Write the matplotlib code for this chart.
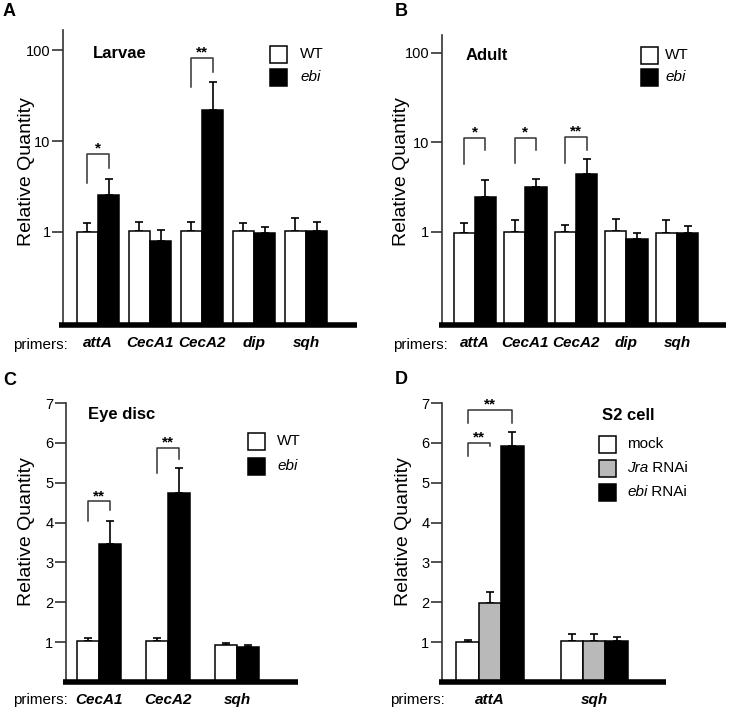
import matplotlib
matplotlib.use('Agg')
import matplotlib.pyplot as plt
from matplotlib.patches import Rectangle
import numpy as np

plt.rcParams['font.family'] = ['Liberation Sans', 'DejaVu Sans']

# --- Data ---
# A: Larvae (log scale)
a_genes = ['attA', 'CecA1', 'CecA2', 'dip', 'sqh']
a_wt = [1.0, 1.03, 1.03, 1.03, 1.03]
a_wt_err = [1.26, 1.29, 1.28, 1.25, 1.41]
a_ebi = [2.55, 0.80, 22.0, 0.97, 1.03]
a_ebi_err = [3.8, 1.05, 45.0, 1.14, 1.28]
# brackets: (group, top, left leg bottom, right leg bottom, label)
a_sig = [(0, 7.2, 3.45, 5.05, '*'), (2, 81, 39, 58, '**')]

# B: Adult (log scale)
b_genes = ['attA', 'CecA1', 'CecA2', 'dip', 'sqh']
b_wt = [0.97, 1.0, 1.0, 1.02, 0.97]
b_wt_err = [1.24, 1.37, 1.19, 1.40, 1.34]
b_ebi = [2.45, 3.19, 4.46, 0.835, 0.97]
b_ebi_err = [3.76, 3.92, 6.5, 0.975, 1.16]
b_sig = [(0, 11.3, 5.67, 8.1, '*'), (1, 11.3, 5.8, 8.2, '*'), (2, 11.5, 5.9, 8.2, '**')]

# C: Eye disc (linear)
c_genes = ['CecA1', 'CecA2', 'sqh']
c_wt = [1.03, 1.03, 0.92]
c_wt_err = [1.10, 1.10, 0.98]
c_ebi = [3.45, 4.75, 0.88]
c_ebi_err = [4.03, 5.37, 0.94]
c_sig = [(0, 4.53, 4.03, 4.32, '**'), (1, 5.87, 5.25, 5.59, '**')]

# D: S2 cell (linear)
d_genes = ['attA', 'sqh']
d_mock = [1.0, 1.02]
d_mock_err = [1.05, 1.21]
d_jra = [1.98, 1.02]
d_jra_err = [2.27, 1.21]
d_ebi = [5.93, 1.02]
d_ebi_err = [6.27, 1.12]

W, H = 733, 710
fig = plt.figure(figsize=(W / 100, H / 100), dpi=100)


def px(x, y):
    return x / W, 1 - y / H


def make_ax(x0, x1, ytop, ybot):
    return fig.add_axes([x0 / W, 1 - ybot / H, (x1 - x0) / W, (ybot - ytop) / H])


def style_ax(ax, genes):
    for s in ['top', 'right', 'bottom']:
        ax.spines[s].set_visible(False)
    ax.spines['left'].set_linewidth(1.2)
    ax.spines['left'].set_color('#333333')
    ax.plot([-0.012, 1], [0, 0], transform=ax.transAxes, color='black',
            lw=4, solid_capstyle='butt', clip_on=False, zorder=5)
    ax.set_xticks(range(len(genes)))
    ax.set_xticklabels(genes, fontsize=11, fontweight='bold', fontstyle='italic')
    ax.tick_params(axis='x', length=0, pad=8)
    ax.tick_params(axis='y', length=8, width=1.2, color='#333333', pad=1,
                   labelsize=10.5, which='major')
    ax.tick_params(axis='y', which='minor', length=0)


def draw_bars(ax, xs, vals, errs, width, color, bottom=0):
    vals = np.array(vals)
    ax.bar(xs, vals - bottom, width, bottom=bottom, color=color,
           edgecolor='black', linewidth=1.1, zorder=2)
    up = np.array(errs) - vals
    ax.errorbar(xs, vals, yerr=[np.zeros_like(up), up], fmt='none',
                ecolor='black', elinewidth=1.2, capsize=3, capthick=1.2, zorder=1)


def brackets(ax, sig, off):
    for g, top, lb, rb, lab in sig:
        x0, x1 = g - off, g + off
        ax.plot([x0, x0, x1, x1], [lb, top, top, rb], color='#333333', lw=1.1,
                clip_on=False)
        ax.annotate(lab, ((x0 + x1) / 2, top), xytext=(0, 1), textcoords='offset points',
                    ha='center', va='baseline', fontsize=11, fontweight='bold')


def legend(items, bx, ys, tx):
    # items: (italic part, regular part, colour)
    for (ital, reg, color), yc in zip(items, ys):
        x, y = px(bx, yc + 8.5)
        fig.add_artist(Rectangle((x, y), 17 / W, 17 / H, transform=fig.transFigure,
                                 facecolor=color, edgecolor='black', lw=1.1))
        if ital:
            t = fig.text(*px(tx, yc), ital, style='italic', fontsize=11, va='center')
            if reg:
                fig.canvas.draw()
                bb = t.get_window_extent()
                fig.text(bb.x1 / W, 1 - yc / H, reg, fontsize=11, va='center')
        else:
            fig.text(*px(tx, yc), reg, fontsize=11, va='center')


# ---------- A ----------
axA = make_ax(63, 357, 30, 325)
axA.set_yscale('log')
lowA = 0.095
xa = np.arange(len(a_genes))
draw_bars(axA, xa - 0.205, a_wt, a_wt_err, 0.41, 'white', lowA)
draw_bars(axA, xa + 0.205, a_ebi, a_ebi_err, 0.41, 'black', lowA)
axA.set_ylim(lowA, 166)
axA.set_xlim(-0.67, 4.98)
style_ax(axA, a_genes)
axA.set_yticks([1, 10, 100], ['1', '10', '100'])
brackets(axA, a_sig, 0.205)

# ---------- B ----------
axB = make_ax(442, 726, 35, 325)
axB.set_yscale('log')
lowB = 0.091
xb = np.arange(len(b_genes))
draw_bars(axB, xb - 0.21, b_wt, b_wt_err, 0.42, 'white', lowB)
draw_bars(axB, xb + 0.21, b_ebi, b_ebi_err, 0.42, 'black', lowB)
axB.set_ylim(lowB, 158)
axB.set_xlim(-0.65, 4.97)
style_ax(axB, b_genes)
axB.set_yticks([1, 10, 100], ['1', '10', '100'])
brackets(axB, b_sig, 0.21)

# ---------- C ----------
axC = make_ax(66, 298, 403, 682)
xc = np.arange(len(c_genes))
draw_bars(axC, xc - 0.16, c_wt, c_wt_err, 0.32, 'white')
draw_bars(axC, xc + 0.16, c_ebi, c_ebi_err, 0.32, 'black')
axC.set_ylim(0, 7)
axC.set_xlim(-0.48, 2.88)
style_ax(axC, c_genes)
axC.set_yticks(range(1, 8))
brackets(axC, c_sig, 0.16)

# ---------- D ----------
axD = make_ax(442, 666, 403, 682)
xd = np.arange(len(d_genes))
draw_bars(axD, xd - 0.215, d_mock, d_mock_err, 0.215, 'white')
draw_bars(axD, xd, d_jra, d_jra_err, 0.215, '#b9b9b9')
draw_bars(axD, xd + 0.215, d_ebi, d_ebi_err, 0.215, 'black')
axD.set_ylim(0, 7)
axD.set_xlim(-0.46, 1.69)
style_ax(axD, d_genes)
axD.set_yticks(range(1, 8))
for x0, x1, top, lb, rb in [(-0.215, 0.0, 6.0, 5.68, 5.92), (-0.215, 0.215, 6.83, 6.5, 6.5)]:
    axD.plot([x0, x0, x1, x1], [lb, top, top, rb], color='#333333', lw=1.1)
    axD.annotate('**', ((x0 + x1) / 2, top), xytext=(0, 1), textcoords='offset points',
                 ha='center', va='baseline', fontsize=11, fontweight='bold')

# ---------- labels ----------
for lab, x, y in [('A', 3, 12), ('B', 395, 12), ('C', 3, 381), ('D', 395, 380)]:
    fig.text(*px(x, y), lab, fontsize=13, fontweight='bold', va='center', ha='left')

for x, y in [(27, 172), (401, 172), (27, 532), (403, 532)]:
    fig.text(*px(x, y), 'Relative Quantity', rotation=90, fontsize=14,
             ha='center', va='center')

for x, y in [(13, 345), (393, 345), (13, 700), (390, 700)]:
    fig.text(*px(x, y), 'primers:', fontsize=11, va='center', ha='left')

for t, x, y in [('Larvae', 93, 54), ('Adult', 466, 56), ('Eye disc', 88, 414), ('S2 cell', 602, 416)]:
    fig.text(*px(x, y), t, fontsize=12, fontweight='bold', va='center', ha='left')

legend([(None, 'WT', 'white'), ('ebi', None, 'black')], 270, [54, 77], 300)
legend([(None, 'WT', 'white'), ('ebi', None, 'black')], 641, [55, 77], 665)
legend([(None, 'WT', 'white'), ('ebi', None, 'black')], 248, [441, 466], 277)
legend([(None, 'mock', 'white'), ('Jra', ' RNAi', '#b9b9b9'),
        ('ebi', ' RNAi', 'black')], 599, [444, 468, 492], 627)

fig.savefig('out.png', dpi=100)
